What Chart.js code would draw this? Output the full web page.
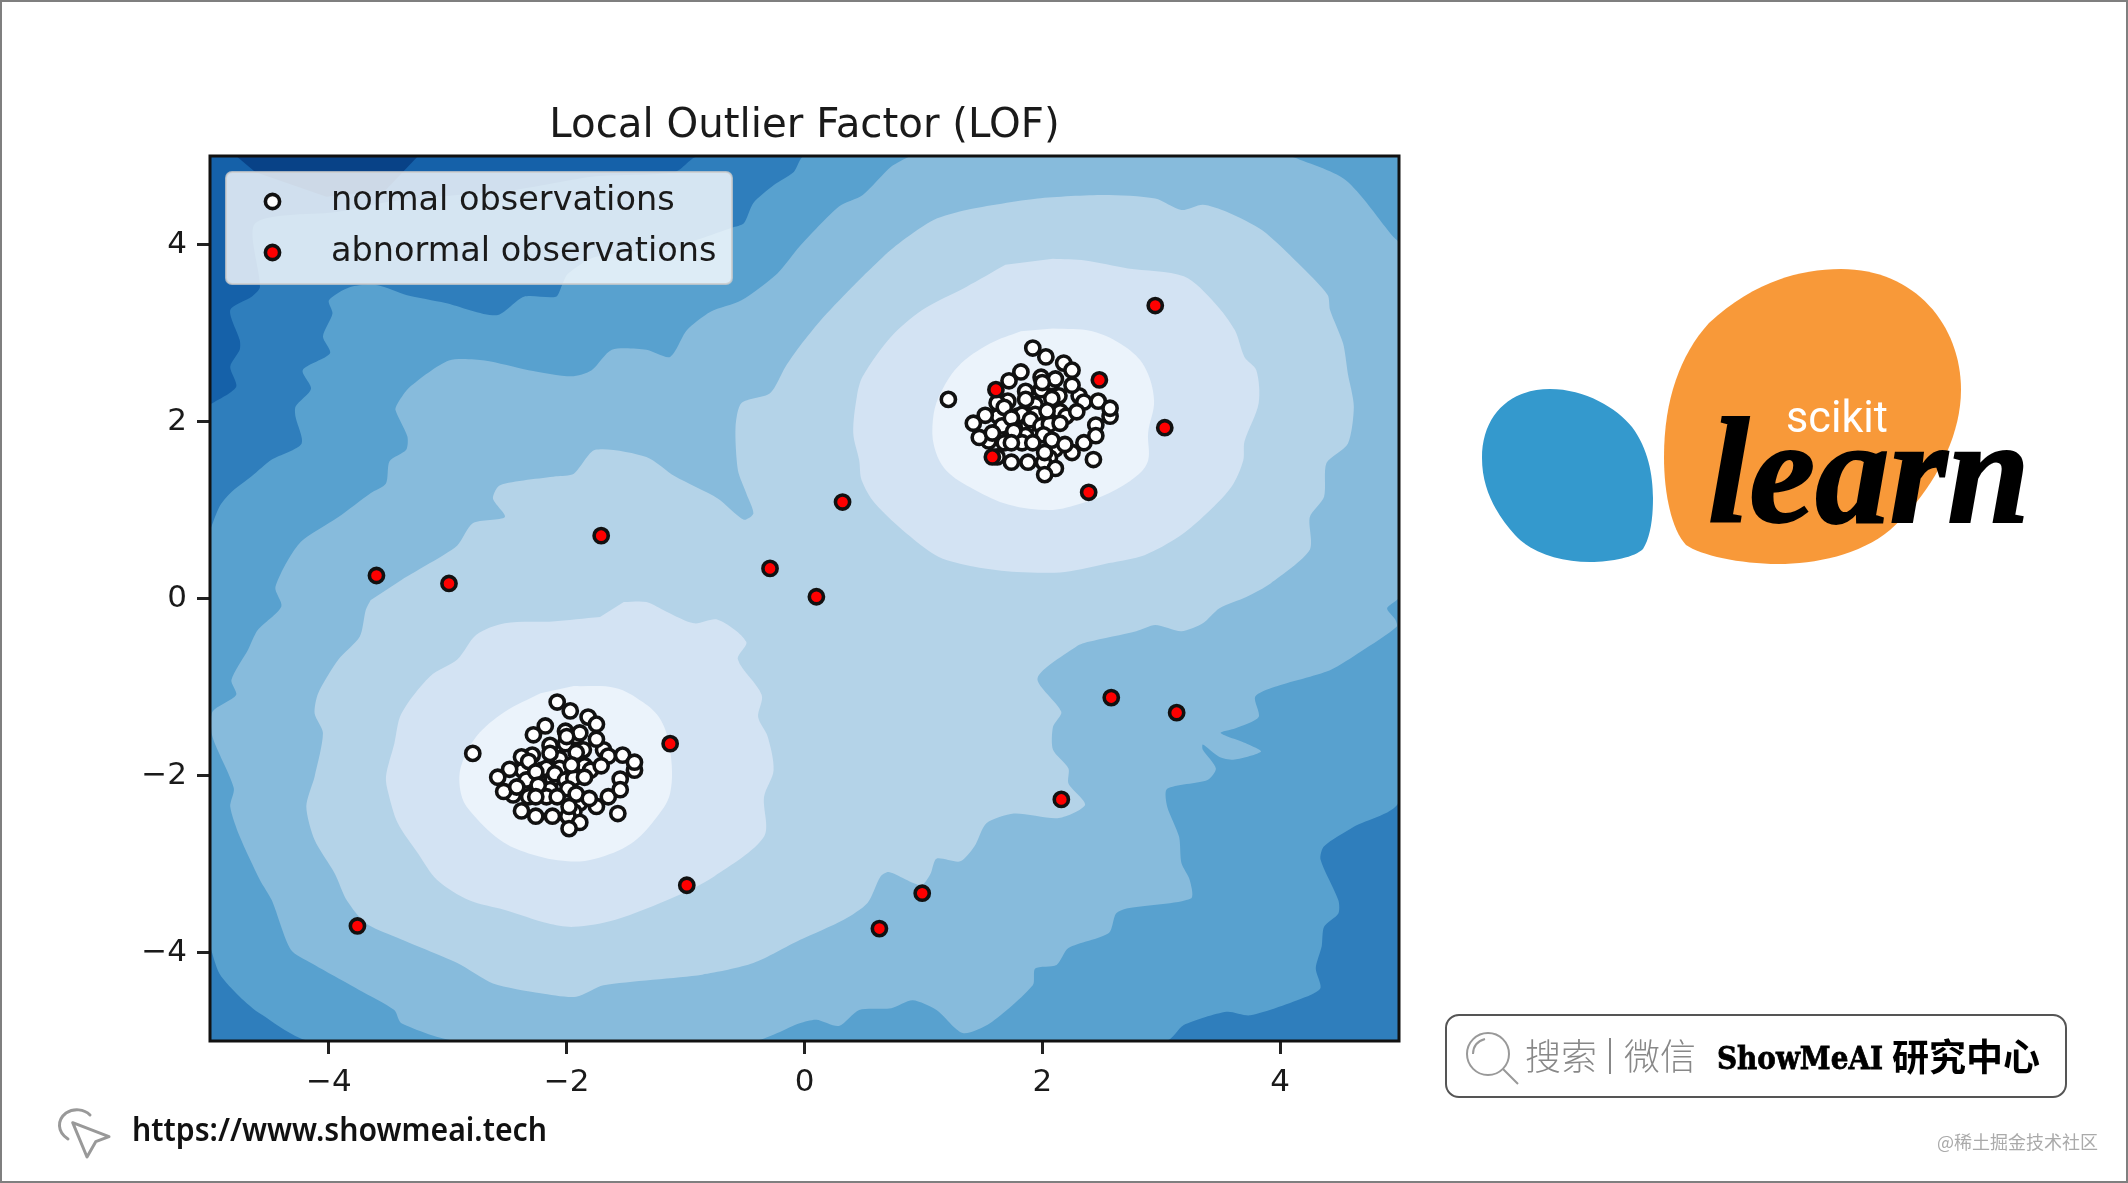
<!DOCTYPE html>
<html>
<head>
<meta charset="utf-8">
<title>Local Outlier Factor (LOF)</title>
<script src="https://cdn.jsdelivr.net/npm/chart.js@4/dist/chart.umd.min.js"></script>
<style>
  html, body { margin: 0; padding: 0; background: #fff; overflow: hidden; }
  #page { position: relative; width: 2128px; height: 1183px; }
  #lof { position: absolute; left: 0; top: 0; }
  #deco { position: absolute; left: 0; top: 0; }
  #frame { position: absolute; inset: 0; border: 2px solid #7f7f7f; pointer-events: none; }
</style>
</head>
<body>
<div id="page">
  <canvas id="lof" width="2128" height="1183"></canvas>
  <svg id="deco" width="2128" height="1183" viewBox="0 0 2128 1183">
    <!-- scikit-learn logo -->
    <path fill="#3499cd" d="M1482,458 C1482,415 1510,389 1550,389 C1585,389 1617,408 1632,427 C1648,448 1653,475 1653,498 C1653,520 1650,538 1643,549 C1635,557 1612,562 1590,562 C1560,562 1530,552 1515,535 C1497,515 1482,490 1482,458 Z"/>
    <path fill="#f89939" d="M1664,457 C1664,400 1680,355 1709,323 C1750,285 1795,269 1841,269 C1915,269 1961,325 1961,390 C1961,440 1930,495 1890,530 C1860,555 1815,564 1778,564 C1740,564 1700,555 1686,545 C1672,530 1664,495 1664,457 Z"/>
    <text x="1786" y="432" textLength="102" lengthAdjust="spacingAndGlyphs" font-family="Roboto" font-weight="400" font-size="45" fill="#fff">scikit</text>
    <text x="1708" y="522" textLength="322" lengthAdjust="spacingAndGlyphs" font-family="Liberation Serif" font-weight="700" font-style="italic" font-size="150" fill="#000" stroke="#000" stroke-width="2">learn</text>

    <!-- search box -->
    <rect x="1446" y="1015" width="620" height="82" rx="13" fill="#fff" stroke="#555" stroke-width="2"/>
    <circle cx="1488" cy="1054" r="21" fill="none" stroke="#999" stroke-width="2"/>
    <path d="M1503,1069 L1518,1084 M1473,1054 C1473,1046 1478,1041 1485,1039" fill="none" stroke="#999" stroke-width="2"/>
    <text x="1525" y="1070" font-family="Noto Sans CJK SC" font-weight="300" font-size="36" fill="#888">搜索</text>
    <rect x="1609" y="1038" width="2" height="36" fill="#888"/>
    <text x="1624" y="1070" font-family="Noto Sans CJK SC" font-weight="300" font-size="36" fill="#888">微信</text>
    <text x="1717" y="1069" textLength="166" lengthAdjust="spacingAndGlyphs" font-family="DejaVu Serif" font-weight="700" font-size="32" fill="#000" stroke="#000" stroke-width="0.8">ShowMeAI</text>
    <text x="1892" y="1071" font-family="Noto Sans CJK SC" font-weight="700" font-size="37" fill="#000">研究中心</text>

    <!-- url and watermark -->
    <path d="M72.7,1122.7 L109,1136.7 L95.7,1141.7 L87,1157 Z" fill="none" stroke="#999" stroke-width="3" stroke-linejoin="round"/>
    <path d="M90,1115 C84,1109 74,1108 66,1113 C57,1120 57,1132 68,1139" fill="none" stroke="#999" stroke-width="3" stroke-linecap="round"/>
    <text x="132" y="1141" textLength="415" lengthAdjust="spacingAndGlyphs" font-family="Noto Sans" font-weight="600" font-size="32" fill="#111">https://www.showmeai.tech</text>
    <text x="1937" y="1149" font-family="Noto Sans CJK SC" font-size="18" fill="#aaa">@稀土掘金技术社区</text>
  </svg>
  <div id="frame"></div>
</div>
<script>
// tick values and labels
const tickValues = [-4, -2, 0, 2, 4];
const tickLabels = ['\u22124', '\u22122', '0', '2', '4'];

// contour bands, darkest at the back in data units
const bandColors = ['#1561a9', '#084287', '#2f7ebc', '#58a1cf', '#87bbdc', '#b4d3e8', '#d3e3f3', '#ebf3fb'];

const levelBase = [[-5, 5], [5, 5], [5, -5], [-5, -5]];

const levelDarkest = [[-4.78, 5], [-4.62, 4.82], [-4.02, 4.54], [-3.52, 4.62], [-3.25, 5]];

const levelC = [[-5, 2.19], [-4.78, 2.39], [-4.83, 2.62], [-4.75, 2.81], [-4.75, 2.92], [-4.83, 3.26], [-4.65, 3.41],
  [-4.58, 3.52], [-4.62, 4.24], [-3.92, 4.37], [-3.42, 4.50], [-2.42, 4.62], [-1.76, 4.77], [-1.09, 4.82], [-0.89, 5],
  [5, 5], [5, -5], [-5, -5]];

const levelD = [[-5, 0.77], [-4.92, 1.04], [-4.83, 1.19], [-4.65, 1.38], [-4.48, 1.57], [-4.23, 1.75], [-4.28, 2.05],
  [-4.28, 2.17], [-4.15, 2.37], [-4.22, 2.58], [-3.99, 2.77], [-4.05, 2.96], [-3.97, 3.22], [-4.0, 3.37], [-3.82, 3.52],
  [-3.59, 3.54], [-3.35, 3.43], [-3.02, 3.34], [-2.59, 3.20], [-2.36, 3.41], [-2.09, 3.41], [-2.04, 3.54], [-1.99, 3.67],
  [-1.76, 3.86], [-1.09, 3.98], [-0.61, 4.19], [-0.51, 4.24], [-0.43, 4.47], [-0.26, 4.67], [-0.09, 4.82], [0.0, 5],
  [5, 5], [5, -2.28], [4.62, -2.58], [4.37, -2.80], [4.34, -2.95], [4.49, -3.41], [4.49, -3.56], [4.37, -3.71],
  [4.35, -3.93], [4.30, -4.18], [4.34, -4.40], [4.22, -4.50], [3.75, -4.71], [3.55, -4.67], [3.19, -4.82], [3.04, -5],
  [-4.15, -5], [-4.58, -4.69], [-4.75, -4.50], [-4.92, -4.24], [-5, -3.93]];

const levelE = [[0.89, 5], [0.73, 4.88], [0.49, 4.56], [0.29, 4.43], [-0.04, 3.98], [-0.23, 3.67], [-0.53, 3.37],
  [-0.79, 3.24], [-0.99, 3.03], [-1.13, 2.73], [-1.33, 2.81], [-1.62, 2.81], [-1.79, 2.58], [-1.96, 2.51], [-2.32, 2.58],
  [-2.69, 2.69], [-2.99, 2.69], [-3.32, 2.39], [-3.42, 2.21], [-3.44, 2.13], [-3.34, 1.83], [-3.35, 1.68], [-3.49, 1.55],
  [-3.52, 1.30], [-3.65, 1.19], [-3.92, 0.92], [-4.25, 0.62], [-4.45, 0.13], [-4.40, -0.09], [-4.60, -0.36], [-4.68, -0.58],
  [-4.82, -0.92], [-4.78, -1.09], [-4.98, -1.28], [-4.98, -1.56], [-4.80, -2.14], [-4.83, -2.35], [-4.75, -2.69],
  [-4.58, -3.18], [-4.48, -3.41], [-4.32, -3.97], [-4.15, -4.12], [-3.75, -4.42], [-3.45, -4.65], [-3.39, -4.80], [-2.92, -5],
  [-0.43, -5], [-0.04, -4.80], [0.10, -4.76], [0.29, -4.83], [0.46, -4.65], [0.73, -4.63], [0.91, -4.54], [1.11, -4.65],
  [1.33, -4.91], [1.56, -4.80], [1.92, -4.37], [1.94, -4.18], [2.12, -4.14], [2.22, -3.95], [2.56, -3.78], [2.62, -3.56],
  [2.72, -3.50], [3.25, -3.39], [3.24, -3.18], [3.17, -2.99], [3.15, -2.69], [3.05, -2.35], [3.05, -2.15], [3.39, -2.05],
  [3.46, -1.92], [3.35, -1.71], [3.35, -1.65], [3.49, -1.79], [3.62, -1.82], [3.84, -1.73], [3.72, -1.64], [3.50, -1.52],
  [3.62, -1.47], [3.82, -1.34], [3.79, -1.11], [3.95, -1.0], [4.42, -0.81], [4.68, -0.60], [4.98, -0.32], [4.97, -0.24],
  [4.90, -0.11], [5, 0.02], [5, 4.01], [4.95, 4.09], [4.55, 4.73], [4.09, 5]];

const levelF = [[-3.39, 0.21], [-3.15, 0.40], [-2.92, 0.60], [-2.79, 0.85], [-2.52, 0.92], [-2.62, 1.13], [-2.56, 1.28],
  [-2.09, 1.38], [-1.94, 1.41], [-1.76, 1.68], [-1.33, 1.60], [-1.09, 1.38], [-0.73, 1.13], [-0.51, 0.89], [-0.43, 0.96],
  [-0.49, 1.19], [-0.56, 1.45], [-0.58, 1.94], [-0.53, 2.21], [-0.29, 2.32], [-0.16, 2.62], [-0.04, 2.85], [0.16, 3.18],
  [0.43, 3.56], [0.66, 3.86], [0.83, 4.05], [1.09, 4.28], [1.36, 4.39], [1.96, 4.52], [2.52, 4.56], [2.95, 4.52],
  [3.17, 4.39], [3.35, 4.45], [3.55, 4.37], [3.85, 4.16], [4.15, 3.79], [4.40, 3.43], [4.42, 3.26], [4.53, 2.88],
  [4.57, 2.54], [4.62, 2.17], [4.57, 1.75], [4.39, 1.53], [4.37, 1.15], [4.25, 0.92], [4.25, 0.55], [3.92, 0.17],
  [3.72, 0.02], [3.49, -0.11], [3.35, -0.28], [3.17, -0.37], [2.95, -0.30], [2.79, -0.37], [2.39, -0.49], [2.29, -0.54],
  [1.96, -0.90], [2.16, -1.28], [2.09, -1.45], [2.09, -1.71], [2.22, -1.92], [2.22, -2.09], [2.36, -2.33], [2.14, -2.48],
  [1.76, -2.43], [1.53, -2.54], [1.43, -2.80], [1.31, -2.97], [1.11, -2.94], [1.06, -3.11], [0.98, -3.24], [0.71, -3.09],
  [0.64, -3.14], [0.53, -3.44], [0.33, -3.63], [-0.04, -3.86], [-0.43, -4.12], [-0.86, -4.25], [-1.69, -4.37], [-1.92, -4.50],
  [-2.22, -4.46], [-2.62, -4.35], [-2.92, -4.12], [-3.45, -3.82], [-3.69, -3.67], [-3.85, -3.41], [-3.95, -3.11],
  [-4.12, -2.73], [-4.19, -2.35], [-4.12, -2.01], [-4.05, -1.52], [-4.12, -1.30], [-4.09, -1.07], [-3.92, -0.69],
  [-3.74, -0.43], [-3.69, -0.13], [-3.65, -0.02]];

const levelGLower = [[-1.52, -0.04], [-1.33, -0.04], [-1.16, -0.15], [-0.93, -0.28], [-0.73, -0.24], [-0.49, -0.49],
  [-0.56, -0.69], [-0.36, -1.09], [-0.39, -1.34], [-0.31, -1.56], [-0.26, -1.94], [-0.34, -2.24], [-0.34, -2.69],
  [-0.76, -3.14], [-1.09, -3.37], [-1.59, -3.63], [-1.94, -3.71], [-2.16, -3.67], [-2.52, -3.52], [-2.82, -3.41],
  [-3.09, -3.18], [-3.25, -2.88], [-3.42, -2.54], [-3.50, -2.20], [-3.52, -2.01], [-3.45, -1.64], [-3.39, -1.30],
  [-3.15, -0.88], [-2.92, -0.69], [-2.76, -0.41], [-2.52, -0.28], [-2.12, -0.26], [-1.72, -0.21]];

const levelGUpper = [[2.09, 3.84], [2.36, 3.82], [2.72, 3.73], [3.19, 3.64], [3.45, 3.34], [3.62, 3.03], [3.70, 2.73],
  [3.80, 2.58], [3.82, 2.21], [3.70, 1.77], [3.69, 1.56], [3.59, 1.26], [3.35, 0.92], [3.15, 0.70], [2.86, 0.49],
  [2.56, 0.40], [2.19, 0.30], [1.79, 0.30], [1.43, 0.36], [1.13, 0.47], [0.89, 0.70], [0.59, 1.08], [0.48, 1.34],
  [0.46, 1.56], [0.41, 1.87], [0.44, 2.28], [0.49, 2.51], [0.73, 2.96], [0.99, 3.26], [1.36, 3.52], [1.69, 3.77]];

const levelHLower = [[-1.94, -0.99], [-1.59, -1.01], [-1.36, -1.17], [-1.21, -1.37], [-1.13, -1.71], [-1.13, -2.20],
  [-1.26, -2.50], [-1.46, -2.77], [-1.76, -2.94], [-1.99, -2.97], [-2.32, -2.88], [-2.56, -2.73], [-2.82, -2.39],
  [-2.89, -2.20], [-2.89, -1.90], [-2.76, -1.56], [-2.52, -1.28], [-2.22, -1.07]];

const levelHUpper = [[2.09, 3.05], [2.42, 3.02], [2.69, 2.85], [2.86, 2.62], [2.94, 2.24], [2.89, 1.87], [2.89, 1.56],
  [2.79, 1.38], [2.56, 1.19], [2.29, 1.06], [2.06, 1.0], [1.72, 1.06], [1.43, 1.23], [1.19, 1.45], [1.09, 1.72],
  [1.08, 2.02], [1.13, 2.28], [1.29, 2.62], [1.56, 2.88], [1.82, 3.02]];

// observations, later points sit on top
const normalLower = [[-2.79, -1.75],
  [-2.45, -2.22], [-2.53, -2.18], [-2.37, -1.94], [-2.34, -2.05], [-2.29, -1.77], [-2.38, -1.79], [-2.21, -1.94],
  [-2.17, -1.92], [-2.14, -1.66], [-2.06, -1.81], [-2.06, -1.92], [-2.12, -2.04], [-2.10, -1.98], [-2.01, -1.64],
  [-1.92, -1.56], [-1.89, -1.52], [-1.85, -1.89], [-1.80, -1.94], [-1.86, -1.71], [-2.01, -2.05], [-1.94, -2.03],
  [-1.99, -2.15], [-2.14, -2.16], [-1.89, -2.31], [-1.94, -2.41], [-1.99, -2.46], [-2.17, -2.24], [-2.32, -2.24],
  [-1.82, -1.34], [-1.55, -2.04], [-1.43, -1.94], [-1.75, -2.35], [-1.69, -1.71], [-1.89, -2.53],
  [-2.08, -1.17], [-1.97, -1.27], [-1.75, -1.42], [-2.18, -1.44], [-2.28, -1.54], [-2.01, -1.50], [-2.0, -1.56],
  [-1.75, -1.59], [-2.14, -1.75], [-1.92, -1.74], [-1.65, -1.78], [-1.53, -1.77], [-1.43, -1.85], [-2.32, -1.84],
  [-2.48, -1.93], [-2.58, -2.02], [-2.42, -2.13], [-2.26, -1.96], [-2.24, -2.11], [-1.96, -1.88], [-1.71, -1.89],
  [-1.85, -2.02], [-1.92, -2.21], [-2.08, -2.24], [-2.26, -2.24], [-2.38, -2.40], [-2.26, -2.46], [-2.12, -2.46],
  [-1.98, -2.35], [-1.81, -2.26], [-1.65, -2.24], [-1.55, -2.16], [-1.57, -2.43], [-1.98, -2.60]];

const normalUpper = [[1.21, 2.25],
  [1.55, 1.78], [1.47, 1.82], [1.63, 2.06], [1.66, 1.95], [1.71, 2.23], [1.62, 2.21], [1.79, 2.06],
  [1.83, 2.08], [1.86, 2.34], [1.94, 2.19], [1.94, 2.08], [1.88, 1.96], [1.90, 2.02], [1.99, 2.36],
  [2.08, 2.44], [2.11, 2.48], [2.15, 2.11], [2.20, 2.06], [2.14, 2.29], [1.99, 1.95], [2.06, 1.97],
  [2.01, 1.85], [1.86, 1.84], [2.11, 1.69], [2.06, 1.59], [2.01, 1.54], [1.83, 1.76], [1.68, 1.76],
  [2.18, 2.66], [2.45, 1.96], [2.57, 2.06], [2.25, 1.65], [2.31, 2.29], [2.11, 1.47],
  [1.92, 2.83], [2.03, 2.73], [2.25, 2.58], [1.82, 2.56], [1.72, 2.46], [1.99, 2.50], [2.0, 2.44],
  [2.25, 2.41], [1.86, 2.25], [2.08, 2.26], [2.35, 2.22], [2.47, 2.23], [2.57, 2.15], [1.68, 2.16],
  [1.52, 2.07], [1.42, 1.98], [1.58, 1.87], [1.74, 2.04], [1.76, 1.89], [2.04, 2.12], [2.29, 2.11],
  [2.15, 1.98], [2.08, 1.79], [1.92, 1.76], [1.74, 1.76], [1.62, 1.60], [1.74, 1.54], [1.88, 1.54],
  [2.02, 1.65], [2.19, 1.74], [2.35, 1.76], [2.45, 1.84], [2.43, 1.57], [2.02, 1.40]];

const abnormal = [[2.95, 3.31], [2.48, 2.47], [1.61, 2.36], [3.03, 1.93], [1.58, 1.60], [2.39, 1.20], [0.32, 1.09],
  [-1.71, 0.71], [-3.60, 0.26], [-2.99, 0.17], [-0.29, 0.34], [0.10, 0.02], [2.58, -1.12], [3.13, -1.29], [-1.13, -1.64],
  [2.16, -2.27], [-0.99, -3.24], [0.99, -3.33], [0.63, -3.73], [-3.76, -3.70]];

const xy = pts => pts.map(p => ({ x: p[0], y: p[1] }));

const contourBands = [
  [levelBase, bandColors[0], 0],
  [levelDarkest, bandColors[1], 0],
  [levelC, bandColors[2], 0.25],
  [levelD, bandColors[3], 0.25],
  [levelE, bandColors[4], 0.25],
  [levelF, bandColors[5], 0.25],
  [levelGLower, bandColors[6], 0.3],
  [levelGUpper, bandColors[6], 0.3],
  [levelHLower, bandColors[7], 0.35],
  [levelHUpper, bandColors[7], 0.35]
];

const fontName = '"DejaVu Sans"';
const inkColor = '#1a1a1a';
const markRadius = 7.1;
const markEdge = 3.6;

const datasets = contourBands.map(([pts, color, bend], i) => ({
  label: 'level ' + i,
  data: xy(pts),
  showLine: true,
  fill: 'shape',
  backgroundColor: color,
  borderColor: color,
  borderWidth: 0,
  pointRadius: 0,
  tension: bend,
  order: 100 - i
}));

datasets.push({
  label: 'normal observations',
  data: xy(normalLower.concat(normalUpper)),
  backgroundColor: '#ffffff',
  borderColor: '#111111',
  borderWidth: markEdge,
  pointRadius: markRadius,
  order: 2
});
datasets.push({
  label: 'abnormal observations',
  data: xy(abnormal),
  backgroundColor: '#ff0000',
  borderColor: '#111111',
  borderWidth: markEdge,
  pointRadius: markRadius,
  order: 1
});

// axes frame and the see-through legend box inside the plot
const framePlugin = {
  id: 'framePlugin',
  afterDatasetsDraw(chart) {
    const { ctx, chartArea: a } = chart;
    ctx.save();
    ctx.strokeStyle = '#111';
    ctx.lineWidth = 3;
    ctx.strokeRect(a.left, a.top, a.right - a.left, a.bottom - a.top);

    ctx.beginPath();
    ctx.roundRect(226, 172, 506, 112, 6);
    ctx.fillStyle = 'rgba(255,255,255,0.8)';
    ctx.fill();
    ctx.strokeStyle = 'rgba(204,204,204,0.8)';
    ctx.lineWidth = 2;
    ctx.stroke();

    const rows = [[datasets[datasets.length - 2], 201.5], [datasets[datasets.length - 1], 252.5]];
    ctx.font = '33.5px ' + fontName;
    ctx.textBaseline = 'alphabetic';
    rows.forEach(([ds, y]) => {
      ctx.beginPath();
      ctx.arc(272.5, y, markRadius, 0, Math.PI * 2);
      ctx.fillStyle = ds.backgroundColor;
      ctx.fill();
      ctx.strokeStyle = '#111';
      ctx.lineWidth = markEdge;
      ctx.stroke();
      ctx.fillStyle = inkColor;
      ctx.fillText(ds.label, 331, y + 8);
    });
    ctx.restore();
  }
};

const axisOptions = (fit) => ({
  type: 'linear',
  min: -5,
  max: 5,
  afterBuildTicks: scale => { scale.ticks = tickValues.map(v => ({ value: v })); },
  afterFit: fit,
  border: { display: false },
  grid: { drawOnChartArea: false, drawTicks: true, tickLength: 13, lineWidth: 3, tickColor: '#222' },
  ticks: {
    color: inkColor,
    font: { family: fontName, size: 31 },
    padding: 10,
    maxRotation: 0,
    autoSkip: false,
    callback: value => tickLabels[tickValues.indexOf(value)]
  }
});

new Chart(document.getElementById('lof').getContext('2d'), {
  type: 'scatter',
  data: { datasets },
  plugins: [framePlugin],
  options: {
    responsive: false,
    animation: false,
    devicePixelRatio: 1,
    events: [],
    layout: { padding: { left: 0, right: 729, top: 0, bottom: 0 } },
    plugins: {
      legend: { display: false },
      tooltip: { enabled: false },
      title: {
        display: true,
        text: 'Local Outlier Factor (LOF)',
        color: inkColor,
        fullSize: false,
        font: { family: fontName, size: 40.3, weight: 'normal', lineHeight: 1 },
        padding: { top: 106, bottom: 9.7 }
      }
    },
    scales: {
      x: axisOptions(scale => { scale.height = 142; }),
      y: axisOptions(scale => { scale.width = 210; })
    }
  }
});
</script>
</body>
</html>
